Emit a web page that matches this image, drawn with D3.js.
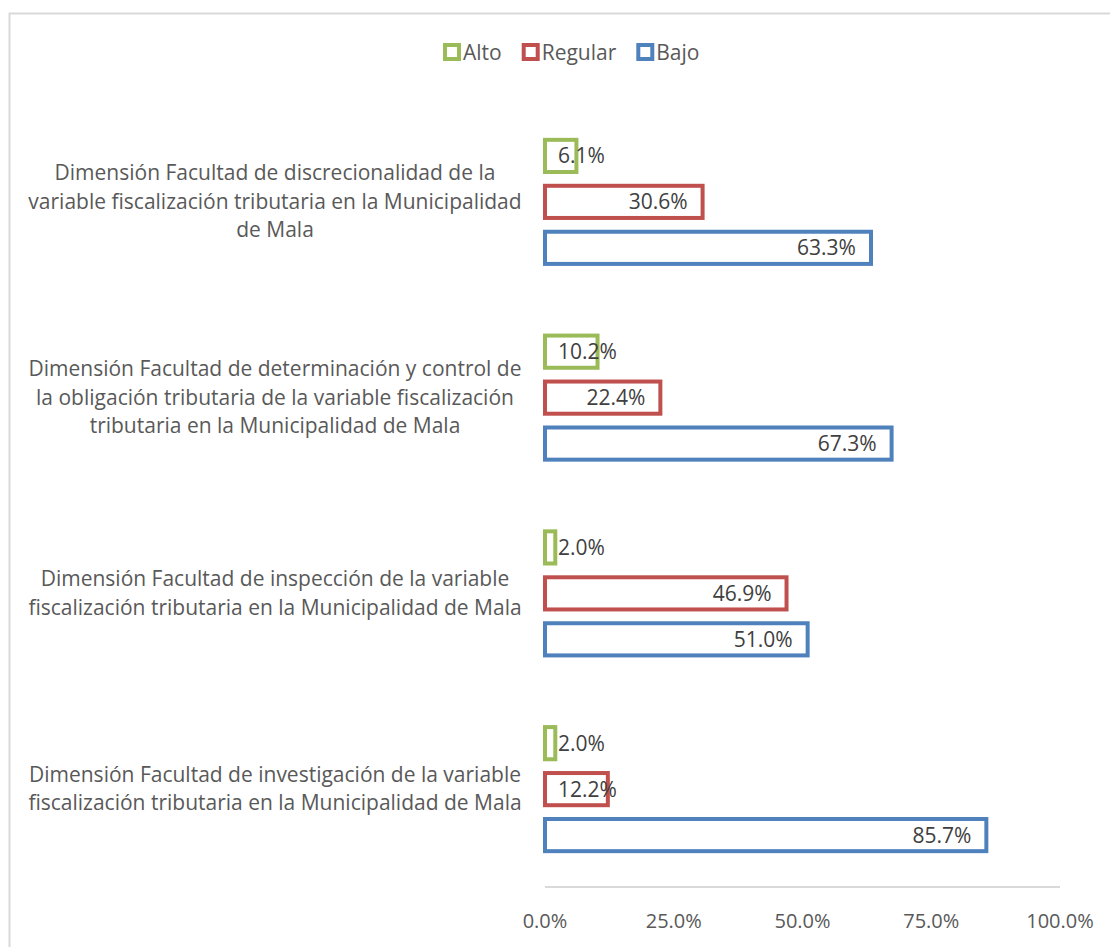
<!DOCTYPE html>
<html>
<head>
<meta charset="utf-8">
<script src="https://cdn.jsdelivr.net/npm/d3@7"></script>
<style>
  body { margin: 0; background: #fff; }
  svg { display: block; font-family: "Open Sans", "DejaVu Sans", sans-serif; }
</style>
</head>
<body>
<div id="chart"></div>
<script>
var categories = [
    ["Dimensión Facultad de discrecionalidad de la", "variable fiscalización tributaria en la Municipalidad", "de Mala"],
    ["Dimensión Facultad de determinación y control de", "la obligación tributaria de la variable fiscalización", "tributaria en la Municipalidad de Mala"],
    ["Dimensión Facultad de inspección de la variable", "fiscalización tributaria en la Municipalidad de Mala"],
    ["Dimensión Facultad de investigación de la variable", "fiscalización tributaria en la Municipalidad de Mala"]
];
var seriesNames = ["Alto", "Regular", "Bajo"];
var seriesColors = ["#9bbb59", "#c0504d", "#4f81bd"];
var alto = [6.1, 10.2, 2.0, 2.0];
var regular = [30.6, 22.4, 46.9, 12.2];
var bajo = [63.3, 67.3, 51.0, 85.7];
var xTicks = [0, 25, 50, 75, 100];

var seriesValues = [alto, regular, bajo];
var W = 1110, H = 947;
var fs = "21px";

var svg = d3.select("#chart").append("svg")
    .attr("width", W)
    .attr("height", H);

// chart frame
svg.append("rect")
    .attr("x", 9.5).attr("y", 13.5)
    .attr("width", 1140).attr("height", 980)
    .attr("fill", "#fff")
    .attr("stroke", "#d9d9d9")
    .attr("stroke-width", 2);

var catIdx = categories.map(function(c, i) { return i; });

var x = d3.scaleLinear().domain([0, 100]).range([545, 1060]);
var y0 = d3.scaleBand().domain(catIdx).range([104, 887]);
var y1 = d3.scaleBand().domain(seriesNames).range([0, y0.bandwidth()])
    .paddingInner(0.3).paddingOuter(0.78);

// axis line
svg.append("line")
    .attr("x1", x(0)).attr("x2", x(100))
    .attr("y1", 887).attr("y2", 887)
    .attr("stroke", "#d9d9d9").attr("stroke-width", 2);

// x tick labels
svg.selectAll(".xtick")
    .data(xTicks)
    .enter().append("text")
    .attr("class", "xtick")
    .attr("x", function(d) { return x(d); })
    .attr("y", 928)
    .attr("text-anchor", "middle")
    .style("font-size", "20px")
    .style("fill", "#595959")
    .text(function(d) { return d.toFixed(1) + "%"; });

// category labels
var catG = svg.selectAll(".cat")
    .data(categories)
    .enter().append("text")
    .attr("class", "cat")
    .attr("text-anchor", "middle")
    .style("font-size", fs)
    .style("fill", "#595959");

catG.each(function(lines, i) {
    var cy = y0(i) + y0.bandwidth() / 2;
    var lh = 28.5;
    var top = cy - (lines.length - 1) * lh / 2;
    d3.select(this).selectAll("tspan")
        .data(lines)
        .enter().append("tspan")
        .attr("x", 275)
        .attr("y", function(d, j) { return top + j * lh + 7; })
        .text(function(d) { return d; });
});

// bars
var data = [];
seriesNames.forEach(function(s, si) {
    seriesValues[si].forEach(function(v, ci) {
        data.push({ cat: ci, series: s, si: si, value: v });
    });
});

svg.selectAll(".bar")
    .data(data)
    .enter().append("rect")
    .attr("class", "bar")
    .attr("x", x(0))
    .attr("y", function(d) { return y0(d.cat) + y1(d.series); })
    .attr("width", function(d) { return x(d.value) - x(0); })
    .attr("height", y1.bandwidth())
    .attr("fill", "#fff")
    .attr("stroke", function(d) { return seriesColors[d.si]; })
    .attr("stroke-width", 4);

// data labels
svg.selectAll(".lbl")
    .data(data)
    .enter().append("text")
    .attr("class", "lbl")
    .attr("y", function(d) { return y0(d.cat) + y1(d.series) + y1.bandwidth() / 2 + 7.5; })
    .style("font-size", fs)
    .style("fill", "#404040")
    .text(function(d) { return d.value.toFixed(1) + "%"; })
    .attr("x", function(d) {
        var w = this.getComputedTextLength();
        return Math.max(x(d.value) - 15 - w, x(0) + 13);
    });

// legend
var legend = svg.append("g").attr("transform", "translate(443,52)");
var lx = 0;
seriesNames.forEach(function(s, i) {
    var g = legend.append("g").attr("transform", "translate(" + lx + ",0)");
    g.append("rect")
        .attr("x", 2).attr("y", -7)
        .attr("width", 14).attr("height", 14)
        .attr("fill", "#fff")
        .attr("stroke", seriesColors[i])
        .attr("stroke-width", 4);
    var t = g.append("text")
        .attr("x", 20).attr("y", 7.5)
        .style("font-size", fs)
        .style("fill", "#595959")
        .text(s);
    lx += 20 + t.node().getComputedTextLength() + 20;
});
</script>
</body>
</html>
